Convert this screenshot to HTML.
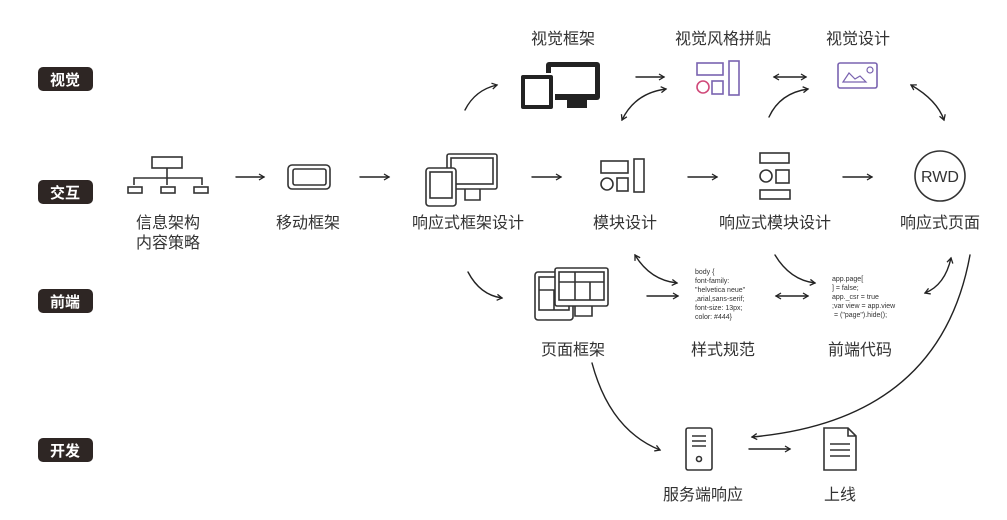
<!DOCTYPE html>
<html><head><meta charset="utf-8"><style>
html,body{margin:0;padding:0;background:#fff;}
svg{display:block;font-family:"Liberation Sans","Noto Sans CJK SC",sans-serif;}
.l{font-size:16px;fill:#333;text-anchor:middle;}
.t{font-size:15px;fill:#fff;text-anchor:middle;font-weight:bold;}
.c{font-size:7px;fill:#333;}
.a{fill:none;stroke:#222;stroke-width:1.4;stroke-linecap:round;}
.i{fill:none;stroke:#333;stroke-width:1.6;}
</style></head><body>
<svg width="1007" height="520" viewBox="0 0 1007 520">
<defs><marker id="m" markerWidth="8" markerHeight="8" refX="6" refY="4" orient="auto-start-reverse" markerUnits="userSpaceOnUse"><path d="M1,1 L6,4 L1,7" fill="none" stroke="#222" stroke-width="1.3"/></marker></defs>
<g>
<rect x="38" y="67" width="55" height="24" rx="5" fill="#2e2624"/><text class="t" x="65" y="85">视觉</text>
<rect x="38" y="180" width="55" height="24" rx="5" fill="#2e2624"/><text class="t" x="65" y="198">交互</text>
<rect x="38" y="289" width="55" height="24" rx="5" fill="#2e2624"/><text class="t" x="65" y="307">前端</text>
<rect x="38" y="438" width="55" height="24" rx="5" fill="#2e2624"/><text class="t" x="65" y="456">开发</text>
</g>
<text class="l" x="563" y="44">视觉框架</text>
<text class="l" x="723" y="44">视觉风格拼贴</text>
<text class="l" x="858" y="44">视觉设计</text>
<text class="l" x="168" y="228">信息架构</text>
<text class="l" x="168" y="248">内容策略</text>
<text class="l" x="308" y="228">移动框架</text>
<text class="l" x="468" y="228">响应式框架设计</text>
<text class="l" x="625" y="228">模块设计</text>
<text class="l" x="775" y="228">响应式模块设计</text>
<text class="l" x="940" y="228">响应式页面</text>
<text class="l" x="573" y="355">页面框架</text>
<text class="l" x="723" y="355">样式规范</text>
<text class="l" x="860" y="355">前端代码</text>
<text class="l" x="703" y="500">服务端响应</text>
<text class="l" x="840" y="500">上线</text>
<g class="i">
<rect x="152" y="157" width="30" height="11"/>
<path d="M167 168 V178 M134 185 V178 H202 V185 M167 178 V185"/>
<rect x="128" y="187" width="14" height="6"/><rect x="161" y="187" width="14" height="6"/><rect x="194" y="187" width="14" height="6"/>
<rect x="288" y="165" width="42" height="24" rx="4"/><rect x="293" y="169" width="33" height="16" rx="2"/>
<rect x="447" y="154" width="50" height="35" rx="2"/><rect x="451" y="158" width="42" height="26"/><path d="M465 189 V200 H480 V189"/>
<rect x="426" y="168" width="30" height="38" rx="3" fill="#fff"/><rect x="430" y="172" width="22" height="26" fill="#fff"/>
<rect x="601" y="161" width="27" height="12"/><circle cx="607" cy="184" r="6"/><rect x="617" y="178" width="11" height="13"/><rect x="634" y="159" width="10" height="33"/>
<rect x="760" y="153" width="29" height="10"/><circle cx="766" cy="176" r="6"/><rect x="776" y="170" width="13" height="13"/><rect x="760" y="190" width="30" height="9"/>
<circle cx="940" cy="176" r="25"/>
<rect x="838" y="63" width="39" height="25" rx="2" stroke="#7a63b0"/><path d="M843 82 L849 73 L855 79 L860 76 L866 82 Z" stroke="#7a63b0" stroke-width="1.2"/><circle cx="870" cy="70" r="3" stroke="#7a63b0" stroke-width="1.2"/>
<rect x="697" y="63" width="26" height="12" stroke="#7a63b0"/><circle cx="703" cy="87" r="6" stroke="#d04a7a"/><rect x="712" y="81" width="11" height="13" stroke="#7a63b0"/><rect x="729" y="61" width="10" height="34" stroke="#7a63b0"/>
<rect x="535" y="272" width="38" height="48" rx="3" fill="#fff"/><rect x="539" y="277" width="30" height="33"/><path d="M539 290 H569 M554 290 V310"/>
<rect x="555" y="268" width="53" height="38" rx="2" fill="#fff"/><rect x="559" y="272" width="45" height="28"/><path d="M559 282 H604 M575 272 V300 M590 282 V300"/><path d="M575 306 V316 H592 V306"/>
<rect x="686" y="428" width="26" height="42" rx="2"/><path d="M692 436 H706 M692 441 H706 M692 446 H706"/><circle cx="699" cy="459" r="2.5"/>
<path d="M824 428 H848 L856 436 V470 H824 Z M848 428 V436 H856"/><path d="M830 444 H850 M830 450 H850 M830 456 H850"/>
</g>
<text x="940" y="182" style="font-size:16px;fill:#333;text-anchor:middle">RWD</text>
<g fill="#222">
<rect x="546" y="62" width="54" height="38" rx="3"/><rect x="551" y="67" width="44" height="27" fill="#fff"/>
<rect x="567" y="96" width="20" height="12"/>
<rect x="520" y="74" width="34" height="36" rx="3" stroke="#fff" stroke-width="2"/><rect x="525" y="79" width="24" height="26" fill="#fff"/>
</g>
<g class="c">
<text x="695" y="274">body {</text><text x="695" y="283">font-family:</text><text x="695" y="292">"helvetica neue"</text><text x="695" y="301">,arial,sans-serif;</text><text x="695" y="310">font-size: 13px;</text><text x="695" y="319">color: #444}</text>
<text x="832" y="281">app.page[</text><text x="832" y="290">] = false;</text><text x="832" y="299">app._csr = true</text><text x="832" y="308">;var view = app.view</text><text x="834" y="317"> = ("page").hide();</text>
</g>
<g class="a" marker-end="url(#m)">
<path d="M236 177 H264"/><path d="M360 177 H389"/><path d="M532 177 H561"/><path d="M688 177 H717"/><path d="M843 177 H872"/>
<path d="M636 77 H664"/><path d="M774 77 H806" marker-start="url(#m)"/>
<path d="M465 110 Q475 90 497 85"/>
<path d="M666 89 Q635 93 622 120" marker-start="url(#m)"/>
<path d="M769 117 Q780 93 808 89"/>
<path d="M911 85 Q937 100 944 120" marker-start="url(#m)"/>
<path d="M468 272 Q480 295 502 298"/>
<path d="M635 255 Q650 280 677 283" marker-start="url(#m)"/>
<path d="M647 296 H678"/>
<path d="M776 296 H808" marker-start="url(#m)"/>
<path d="M775 255 Q790 280 815 283"/>
<path d="M951 258 Q945 285 925 293" marker-start="url(#m)"/>
<path d="M592 363 Q610 430 660 450"/>
<path d="M749 449 H790"/>
<path d="M970 255 Q940 420 752 437"/>
</g>
</svg>
</body></html>
